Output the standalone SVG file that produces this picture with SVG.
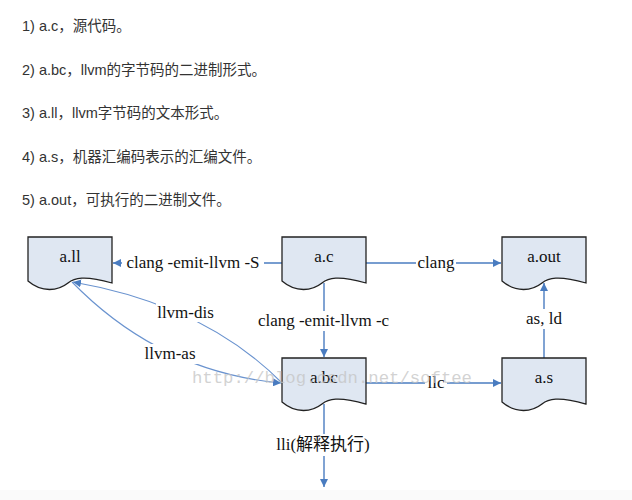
<svg xmlns="http://www.w3.org/2000/svg" width="632" height="500" viewBox="0 0 632 500">
<style>
.list{font-family:"Liberation Sans","Noto Sans CJK SC",sans-serif;font-size:14.5px;fill:#333}
.node use{fill:#dfe7f2;stroke:#222;stroke-width:1.3}
.nl{font-family:"Liberation Serif","Noto Sans CJK SC",serif;font-size:17px;fill:#111;text-anchor:middle}
.edge{fill:none;stroke:#4a7cc0;stroke-width:1.4}
.curve{fill:none;stroke:#6a93cf;stroke-width:1.1}
.bg{fill:#fff}
.wm{font-family:"Liberation Mono",monospace;font-size:17.3px;fill:#c4c4c4;fill-opacity:0.75}
</style>
<defs>
<marker id="ah" viewBox="0 0 10 10" refX="10" refY="5" markerWidth="8" markerHeight="8" markerUnits="userSpaceOnUse" orient="auto">
<path d="M0,0 L10,5 L0,10 z" fill="#4a7cc0"/>
</marker>
<path id="doc" d="M0,0 H84 V46 C56,38 46,41 40,46 C30,54 14,56 0,44 Z"/>
</defs>
<rect width="632" height="500" fill="#fff"/>
<rect y="490" width="632" height="10" fill="#fafafa"/>
<g id="list">
<text class="list" x="22" y="31">1) a.c，源代码。</text>
<text class="list" x="22" y="74.5">2) a.bc，llvm的字节码的二进制形式。</text>
<text class="list" x="22" y="118">3) a.ll，llvm字节码的文本形式。</text>
<text class="list" x="22" y="161.5">4) a.s，机器汇编码表示的汇编文件。</text>
<text class="list" x="22" y="205">5) a.out，可执行的二进制文件。</text>
</g>
<g id="connectors">
<line class="edge" x1="282" y1="263" x2="113" y2="263" marker-end="url(#ah)"/>
<line class="edge" x1="366" y1="263" x2="501" y2="263" marker-end="url(#ah)"/>
<line class="edge" x1="324" y1="283" x2="324" y2="357" marker-end="url(#ah)"/>
<line class="edge" x1="366" y1="383" x2="501" y2="383" marker-end="url(#ah)"/>
<line class="edge" x1="544" y1="358" x2="544" y2="283" marker-end="url(#ah)"/>
<line class="edge" x1="324" y1="404" x2="324" y2="487" marker-end="url(#ah)"/>
<path class="curve" d="M282,383 Q205,305 73,282" marker-end="url(#ah)"/>
<path class="curve" d="M72,282 Q160,372 281,383" marker-end="url(#ah)"/>
<rect class="bg" x="122" y="253" width="142" height="20"/>
<text class="nl" x="193" y="268">clang -emit-llvm -S</text>
<rect class="bg" x="416" y="253" width="40" height="20"/>
<text class="nl" x="436" y="268">clang</text>
<rect class="bg" x="253" y="311" width="142" height="20"/>
<text class="nl" x="323.5" y="326">clang -emit-llvm -c</text>
<rect class="bg" x="523" y="309" width="42" height="20"/>
<text class="nl" x="544" y="324">as, ld</text>
<rect class="bg" x="425" y="374" width="22" height="18"/>
<text class="nl" x="436" y="388">llc</text>
<rect class="bg" x="156" y="302" width="60" height="20"/>
<text class="nl" x="185.5" y="318">llvm-dis</text>
<rect class="bg" x="142" y="344" width="56" height="20"/>
<text class="nl" x="170" y="359">llvm-as</text>
<rect class="bg" x="274" y="434" width="98" height="22"/>
<text class="nl" x="323" y="450">lli(解释执行)</text>
</g>
<g id="node-all" class="node" transform="translate(28,237)">
<use href="#doc"/>
<text class="nl" x="42" y="25">a.ll</text>
</g>
<g id="node-ac" class="node" transform="translate(282,237)">
<use href="#doc"/>
<text class="nl" x="42" y="25">a.c</text>
</g>
<g id="node-aout" class="node" transform="translate(502,237)">
<use href="#doc"/>
<text class="nl" x="42" y="25">a.out</text>
</g>
<g id="node-abc" class="node" transform="translate(282,358)">
<use href="#doc"/>
<text class="nl" x="42" y="25">a.bc</text>
</g>
<g id="node-as" class="node" transform="translate(502,358)">
<use href="#doc"/>
<text class="nl" x="42" y="25">a.s</text>
</g>
<text class="wm" x="192" y="383" textLength="280" lengthAdjust="spacingAndGlyphs">http://blog.csdn.net/softee</text>
</svg>
